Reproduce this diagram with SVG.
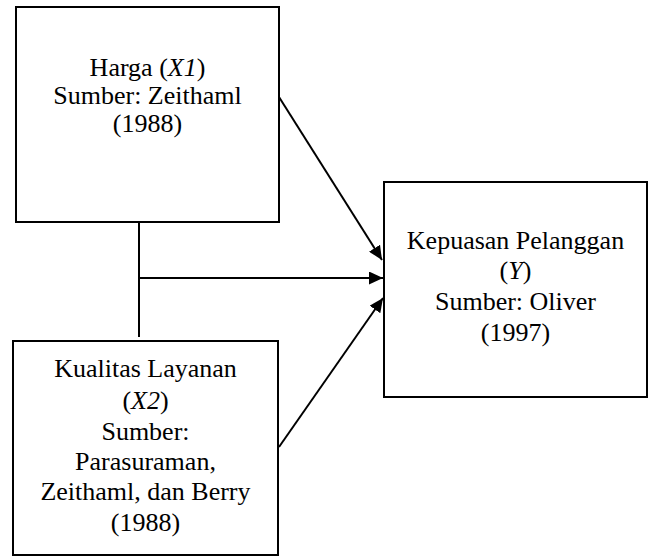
<svg xmlns="http://www.w3.org/2000/svg" width="650" height="557" viewBox="0 0 650 557">
<style>
.box{fill:#fff;stroke:#000;stroke-width:2}
.t{font-family:"Liberation Serif","Times New Roman",serif;font-size:26px;fill:#000;text-anchor:middle}
.c{stroke:#000;stroke-width:2;fill:none}
</style>
<defs>
<marker id="ah" markerUnits="userSpaceOnUse" markerWidth="15" markerHeight="13" refX="14" refY="6.5" orient="auto">
<path d="M0,0 L14,6.5 L0,13 Z" fill="#000"/>
</marker>
</defs>
<rect width="650" height="557" fill="#fff"/>
<g id="connectors">
<line class="c" x1="139" y1="222" x2="139" y2="337"/>
<line class="c" x1="139" y1="278" x2="383" y2="278" marker-end="url(#ah)"/>
<line class="c" x1="279" y1="97" x2="382" y2="260" marker-end="url(#ah)"/>
<line class="c" x1="279" y1="447" x2="383" y2="298" marker-end="url(#ah)"/>
</g>
<g id="harga">
<rect class="box" x="16" y="7" width="263" height="215"/>
<text class="t" x="147.5" y="76">Harga (<tspan font-style="italic">X1</tspan>)</text>
<text class="t" x="147.5" y="104">Sumber: Zeithaml</text>
<text class="t" x="147.5" y="132">(1988)</text>
</g>
<g id="kualitas">
<rect class="box" x="13" y="341" width="265" height="214"/>
<text class="t" x="145.5" y="377">Kualitas Layanan</text>
<text class="t" x="145.5" y="409">(<tspan font-style="italic">X2</tspan>)</text>
<text class="t" x="145.5" y="440">Sumber:</text>
<text class="t" x="145.5" y="470">Parasuraman,</text>
<text class="t" x="145.5" y="500">Zeithaml, dan Berry</text>
<text class="t" x="145.5" y="531">(1988)</text>
</g>
<g id="kepuasan">
<rect class="box" x="384" y="182" width="263" height="215"/>
<text class="t" x="515.5" y="249">Kepuasan Pelanggan</text>
<text class="t" x="515.5" y="279">(<tspan font-style="italic">Y</tspan>)</text>
<text class="t" x="515.5" y="310">Sumber: Oliver</text>
<text class="t" x="515.5" y="341">(1997)</text>
</g>
</svg>
